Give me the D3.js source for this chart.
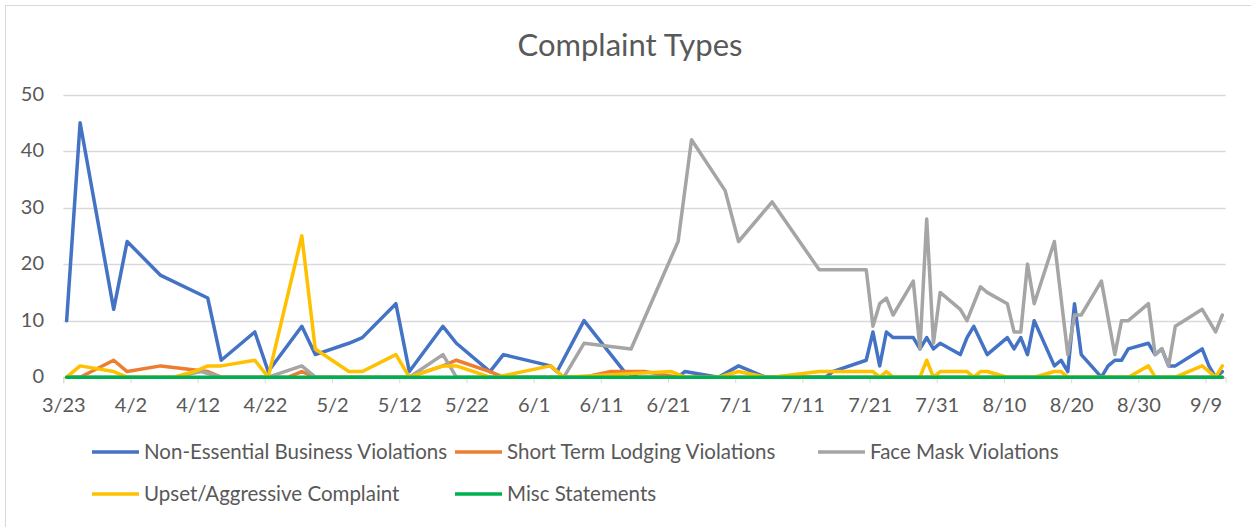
<!DOCTYPE html>
<html>
<head>
    <meta charset="UTF-8">
    <title>Complaint Types</title>
    <script src="https://cdnjs.cloudflare.com/ajax/libs/d3/7.8.5/d3.min.js"></script>
    <style>
        body { margin: 0; background: #fff; }
        svg text { font-family: Lato, "Open Sans", sans-serif; fill: #595959; }
    </style>
</head>
<body>
    <svg id="chart" width="1251" height="527"></svg>
    <script>
        // dates are M/D in 2020
        var nonEssentialDates = ["3/23","3/25","3/30","4/1","4/6","4/13","4/15","4/20","4/22","4/27","4/29","5/4","5/6","5/11","5/13","5/18","5/20","5/25","5/27","6/3","6/4","6/8","6/14","6/16","6/22","6/23","6/28","7/1","7/5","7/14","7/15","7/20","7/21","7/22","7/23","7/24","7/27","7/28","7/29","7/30","7/31","8/3","8/4","8/5","8/7","8/10","8/11","8/12","8/13","8/14","8/17","8/18","8/19","8/20","8/21","8/24","8/25","8/26","8/27","8/28","8/31","9/1","9/2","9/3","9/4","9/8","9/9","9/10","9/11"];
        var nonEssential = [10,45,12,24,18,14,3,8,1,9,4,6,7,13,1,9,6,1,4,2,1,10,1,0,0,1,0,2,0,0,1,3,8,2,8,7,7,5,7,5,6,4,7,9,4,7,5,7,4,10,2,3,1,13,4,0,2,3,3,5,6,4,5,2,2,5,2,0,1];

        var lodgingDates = ["3/23","3/25","3/30","4/1","4/6","4/13","4/15","4/25","4/27","4/29","5/13","5/18","5/20","5/25","5/27","6/8","6/12","6/17","6/22","9/11"];
        var lodging = [0,0,3,1,2,1,0,0,1,0,0,2,3,1,0,0,1,1,0,0];

        var maskDates = ["3/23","4/8","4/12","4/15","4/22","4/27","4/29","5/13","5/18","5/20","6/5","6/8","6/15","6/22","6/24","6/29","7/1","7/6","7/13","7/20","7/21","7/22","7/23","7/24","7/27","7/28","7/29","7/30","7/31","8/3","8/4","8/6","8/7","8/10","8/11","8/12","8/13","8/14","8/17","8/19","8/20","8/21","8/24","8/26","8/27","8/28","8/31","9/1","9/2","9/3","9/4","9/8","9/10","9/11"];
        var mask = [0,0,1,0,0,2,0,0,4,0,0,6,5,24,42,33,24,31,19,19,9,13,14,11,17,5,28,6,15,12,10,16,15,13,8,8,20,13,24,4,11,11,17,4,10,10,13,4,5,2,9,12,8,11];

        var upsetDates = ["3/23","3/25","3/30","4/1","4/8","4/11","4/13","4/15","4/20","4/22","4/27","4/29","5/4","5/6","5/11","5/13","5/18","5/20","5/25","5/26","6/3","6/5","6/21","6/23","6/28","7/1","7/5","7/6","7/13","7/21","7/22","7/23","7/24","7/28","7/29","7/30","7/31","8/4","8/5","8/6","8/7","8/10","8/14","8/17","8/18","8/19","8/28","8/31","9/1","9/4","9/8","9/10","9/11"];
        var upset = [0,2,1,0,0,1,2,2,3,0,25,5,1,1,4,0,2,2,0,0,2,0,1,0,0,1,0,0,1,1,0,1,0,0,3,0,1,1,0,1,1,0,0,1,1,0,0,2,0,0,2,0,2];

        var miscDates = ["3/23","9/11"];
        var misc = [0,0];

        var seriesNames = ["Non-Essential Business Violations", "Short Term Lodging Violations", "Face Mask Violations", "Upset/Aggressive Complaint", "Misc Statements"];
        var seriesColors = ["#4472C4", "#ED7D31", "#A5A5A5", "#FFC000", "#00B050"];
        var yTicks = [0, 10, 20, 30, 40, 50];

        var parseDate = d3.timeParse("%m/%d/%Y");
        var toDate = s => parseDate(s + "/2020");

        var series = [
            [nonEssentialDates, nonEssential],
            [lodgingDates, lodging],
            [maskDates, mask],
            [upsetDates, upset],
            [miscDates, misc]
        ].map((s, i) => ({
            name: seriesNames[i],
            color: seriesColors[i],
            points: s[0].map((d, j) => ({ date: toDate(d), value: s[1][j] }))
        }));

        var svg = d3.select("#chart");

        // chart frame
        svg.append("rect")
            .attr("x", 5.5).attr("y", 5.5)
            .attr("width", 1260).attr("height", 540)
            .attr("fill", "#fff")
            .attr("stroke", "#D9D9D9");

        svg.append("text")
            .attr("x", 630).attr("y", 56)
            .attr("text-anchor", "middle")
            .style("font-size", "31px")
            .text("Complaint Types");

        var start = toDate("3/23");
        var end = d3.timeDay.offset(toDate("9/11"), 1);

        var x = d3.scaleTime().domain([start, end]).range([63.3, 1225.7]);
        var y = d3.scaleLinear().domain([0, 50]).range([377.2, 94.5]);

        // points sit in the middle of their day
        var xMid = d => x(d3.timeHour.offset(d, 12));

        // gridlines + y labels
        svg.append("g").selectAll("line")
            .data(yTicks)
            .enter().append("line")
            .attr("x1", x.range()[0]).attr("x2", x.range()[1])
            .attr("y1", d => Math.round(y(d)) + 0.5)
            .attr("y2", d => Math.round(y(d)) + 0.5)
            .attr("stroke", "#D9D9D9")
            .attr("stroke-width", 1.5);

        svg.append("g").selectAll("text")
            .data(yTicks)
            .enter().append("text")
            .attr("x", 44)
            .attr("y", d => y(d) + 6)
            .attr("text-anchor", "end")
            .style("font-size", "20px")
            .text(d => d);

        // x axis ticks every 10 days from 3/23
        var xTicks = d3.range(0, 18).map(i => d3.timeDay.offset(start, i * 10));
        var xAxis = d3.axisBottom(x)
            .tickValues(xTicks)
            .tickFormat(d3.timeFormat("%-m/%-d"))
            .tickSize(6)
            .tickPadding(15);

        var gx = svg.append("g")
            .attr("transform", "translate(0," + y(0) + ")")
            .call(xAxis);
        gx.select(".domain").attr("stroke", "#D9D9D9");
        gx.selectAll(".tick line").attr("stroke", "#D9D9D9");
        gx.selectAll(".tick text")
            .attr("fill", "#595959")
            .style("font-size", "20px")
            .style("font-family", "Lato, sans-serif");

        var line = d3.line()
            .x(d => xMid(d.date))
            .y(d => y(d.value));

        svg.append("g").selectAll("path")
            .data(series)
            .enter().append("path")
            .attr("d", d => line(d.points))
            .attr("fill", "none")
            .attr("stroke", d => d.color)
            .attr("stroke-width", 3.5)
            .attr("stroke-linejoin", "round")
            .attr("stroke-linecap", "round");

        // legend
        var legendPos = [[92, 452], [455, 452], [818, 452], [92, 494], [455, 494]];
        var legend = svg.append("g").selectAll("g")
            .data(series)
            .enter().append("g")
            .attr("transform", (d, i) => "translate(" + legendPos[i][0] + "," + legendPos[i][1] + ")");

        legend.append("line")
            .attr("x1", 0).attr("x2", 47)
            .attr("stroke", d => d.color)
            .attr("stroke-width", 3.5);

        legend.append("text")
            .attr("x", 52).attr("y", 7)
            .style("font-size", "20.5px")
            .text(d => d.name);
    </script>
</body>
</html>
